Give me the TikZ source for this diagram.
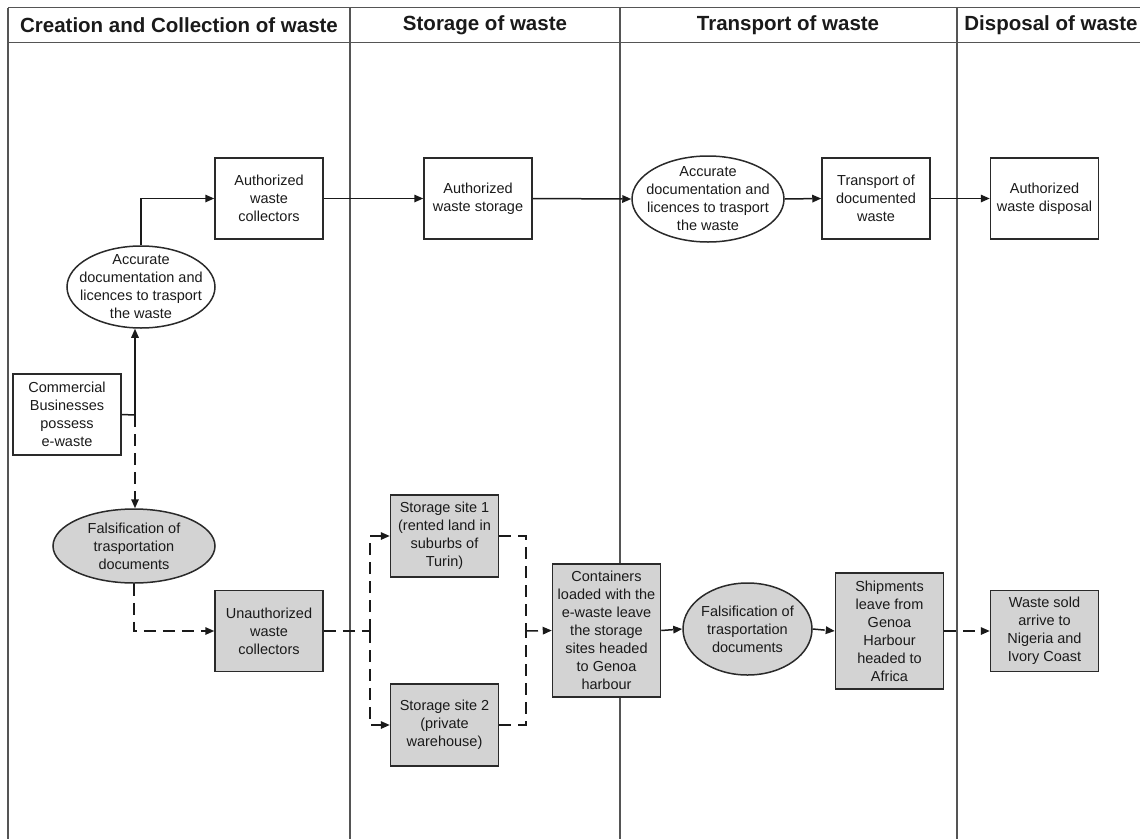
\documentclass[tikz,border=0pt]{standalone}
\usepackage{fontspec}
\setmainfont{Liberation Sans}
\usetikzlibrary{arrows.meta,shapes.geometric}
\definecolor{lanecol}{HTML}{555555}
\definecolor{edgecol}{HTML}{2A2A2A}
\definecolor{shade}{HTML}{D3D3D3}
\definecolor{inkcol}{HTML}{1A1A1A}
\begin{document}
\begin{tikzpicture}[x=1pt,y=-1pt,
  lane/.style={draw=lanecol,line width=1.8pt},
  hdr/.style={font=\fontsize{20.5}{24}\selectfont\bfseries,text=inkcol,inner sep=0pt},
  txt/.style={align=center,inner sep=0pt,font=\fontsize{14.5}{18}\selectfont,text=inkcol},
  box/.style={txt,rectangle,draw=edgecol,line width=1.5pt,minimum width=108pt,minimum height=81pt},
  grey/.style={fill=shade},
  oval/.style={ellipse,draw=edgecol,line width=1.5pt,inner sep=0pt},
  conn/.style={draw=inkcol,line width=1.5pt,-{Triangle[length=9pt,width=7.5pt]}},
  plain/.style={draw=inkcol,line width=1.5pt},
  broken/.style={dash pattern=on 12pt off 7pt},
]
\useasboundingbox (0,0) rectangle (1140,838);

% swimlane frame
\draw[lane] (8,7.5) -- (1142,7.5);
\draw[lane] (8,42.5) -- (1142,42.5);
\draw[lane] (8,7.5) -- (8,840);
\draw[lane] (350,7.5) -- (350,840);
\draw[lane] (620,7.5) -- (620,840);
\draw[lane] (957,7.5) -- (957,840);

\node[hdr] (h1) at (179,25) {Creation and Collection of waste};
\node[hdr] (h2) at (485,25) {Storage of waste};
\node[hdr] (h3) at (788,25) {Transport of waste};
\node[hdr] (h4) at (1051,25) {Disposal of waste};

% authorised route
\node[box] (comm) at (67,414.5) {Commercial\\Businesses\\possess\\e-waste};
\node[oval,minimum width=148pt,minimum height=82pt] (ellL) at (141,287) {};
\node[txt] (ellLt) at (ellL) {Accurate\\documentation and\\licences to trasport\\the waste};
\node[box] (coll) at (269,198.5) {Authorized\\waste\\collectors};
\node[box] (stor) at (478,198.5) {Authorized\\waste storage};
\node[oval,minimum width=152pt,minimum height=86pt] (ellR) at (708,199) {};
\node[txt] (ellRt) at (ellR) {Accurate\\documentation and\\licences to trasport\\the waste};
\node[box] (trans) at (876,198.5) {Transport of\\documented\\waste};
\node[box] (disp) at (1044.5,198.5) {Authorized\\waste disposal};

% illegal route
\node[oval,grey,minimum width=162pt,minimum height=74pt] (fakeL) at (134,546) {};
\node[txt] (fakeLt) at (fakeL) {Falsification of\\trasportation\\documents};
\node[box,grey] (unauth) at (269,631) {Unauthorized\\waste\\collectors};
\node[box,grey,minimum height=82pt] (site1) at (444.5,536) {Storage site 1\\(rented land in\\suburbs of\\Turin)};
\node[box,grey,minimum height=82pt] (site2) at (444.5,725) {Storage site 2\\(private\\warehouse)};
\node[box,grey,minimum height=133pt] (cont) at (606.5,630.5) {Containers\\loaded with the\\e-waste leave\\the storage\\sites headed\\to Genoa\\harbour};
\node[oval,grey,minimum width=129pt,minimum height=92pt] (fakeR) at (747.5,629) {};
\node[txt] (fakeRt) at (fakeR) {Falsification of\\trasportation\\documents};
\node[box,grey,minimum height=116pt] (ship) at (889.5,631) {Shipments\\leave from\\Genoa\\Harbour\\headed to\\Africa};
\node[box,grey] (sold) at (1044.5,631) {Waste sold\\arrive to\\Nigeria and\\Ivory Coast};

% junction points
\coordinate (split) at (135,415);
\coordinate (fork) at (370,631);
\coordinate (merge) at (526,631);

% authorised connectors
\draw[plain] (comm.east) -- (split);
\draw[conn] (split) -- (split |- ellL.south);
\draw[conn] (ellL.north) |- (coll.west);
\draw[conn] (coll.east) -- (stor.west);
\draw[conn] (stor.east) -- (ellR.west);
\draw[conn] (ellR.east) -- (trans.west);
\draw[conn] (trans.east) -- (disp.west);

% illegal connectors
\draw[conn,broken] (split) -- (split |- fakeL.north);
\draw[conn,broken] (fakeL.south) |- (unauth.west);
\draw[plain,broken] (unauth.east) -- (fork);
\draw[conn,broken] (fork) |- (site1.west);
\draw[conn,broken] (fork) |- (site2.west);
\draw[plain,broken] (site1.east) -| (merge);
\draw[plain,broken] (site2.east) -| (merge);
\draw[conn,broken] (merge) -- (cont.west);
\draw[conn,broken] (cont.east) -- (fakeR.west);
\draw[conn,broken] (fakeR.east) -- (ship.west);
\draw[conn,broken] (ship.east) -- (sold.west);
\end{tikzpicture}
\end{document}
